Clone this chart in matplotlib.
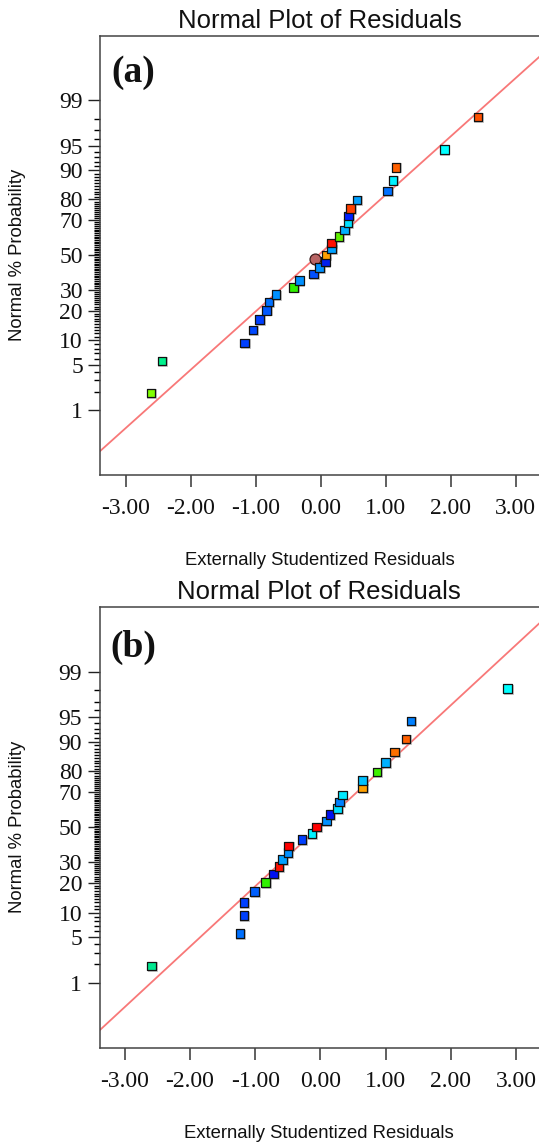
"""Normal probability plots of externally studentized residuals, panels (a) and (b)."""
import numpy as np
import matplotlib
matplotlib.use("Agg")
import matplotlib.pyplot as plt
from matplotlib import transforms
from matplotlib.ticker import NullFormatter
from statistics import NormalDist

# ---------------- data ----------------
PCT = [1.9, 5.6, 9.3, 13.0, 16.7, 20.4, 24.1, 27.8, 31.5, 35.2, 38.9, 42.6, 46.3, 50.0,
       53.7, 57.4, 61.1, 64.8, 68.5, 72.2, 75.9, 79.6, 83.3, 87.0, 90.7, 94.4, 98.1]

A_RESID = [-2.61, -2.44, -1.175, -1.04, -0.94, -0.835, -0.795, -0.69, -0.42, -0.33, -0.11,
           -0.02, 0.07, 0.08, 0.165, 0.17, 0.28, 0.365, 0.42, 0.43, 0.46, 0.56, 1.03, 1.11,
           1.16, 1.90, 2.42]
A_COLORS = ["#80ff00", "#00f08c", "#0040ff", "#0048ff", "#0040ff", "#0058ff", "#0070ff",
            "#0090ff", "#30f000", "#0090ff", "#0050ff", "#0090ff", "#0020f0", "#ffa000",
            "#00a0ff", "#ff1000", "#60f000", "#00b0ff", "#00e0ff", "#0020ff", "#ff4000",
            "#00a0ff", "#0070ff", "#00f0ff", "#ff6000", "#00ffff", "#ff5000"]
A_CIRCLE = (-0.09, 47.6)
A_LINE = [(-2.0, 4.25), (2.0, 96.3)]

B_RESID = [-2.59, -1.23, -1.17, -1.17, -1.01, -0.84, -0.715, -0.635, -0.58, -0.50, -0.49,
           -0.28, -0.13, -0.06, 0.09, 0.15, 0.265, 0.29, 0.335, 0.65, 0.65, 0.87, 1.00,
           1.14, 1.31, 1.39, 2.87]
B_COLORS = ["#00e890", "#0070ff", "#0040ff", "#0040ff", "#0060ff", "#30f000", "#0010f0",
            "#ff1000", "#00a0ff", "#0090ff", "#ff0000", "#0040ff", "#00f0ff", "#ff0000",
            "#0090ff", "#0010f0", "#00e0ff", "#0080ff", "#00e8ff", "#ffa000", "#00c0ff",
            "#40f000", "#00b0ff", "#ff7000", "#ff6000", "#0080ff", "#00ffff"]
B_LINE = [(-2.0, 3.69), (2.0, 96.6)]

Y_MAJOR = [1, 5, 10, 20, 30, 50, 70, 80, 90, 95, 99]
Y_MINOR = [v for v in range(1, 100) if v not in Y_MAJOR]
X_TICKS = [-3, -2, -1, 0, 1, 2, 3]

SERIF = "Liberation Serif"
SANS = "Liberation Sans"

ND = NormalDist()


def fwd(p):
    p = np.clip(np.asarray(p, float) / 100.0, 1e-12, 1 - 1e-12)
    return np.vectorize(ND.inv_cdf, otypes=[float])(p)


def inv(z):
    return np.vectorize(ND.cdf, otypes=[float])(np.asarray(z, float)) * 100.0


fig = plt.figure(figsize=(5.39, 11.44), dpi=100)
W, H = 539.0, 1144.0


def panel(box, xlim, resid, colors, line, tag, tag_off, circle=None):
    left, top, bottom = box
    ax = fig.add_axes([left / W, 1 - bottom / H, 1 - left / W, (bottom - top) / H])
    ax.set_yscale("function", functions=(fwd, inv))
    ax.set_xlim(*xlim)
    ax.set_ylim(0.0483, 99.9517)

    ax.axline(line[0], line[1], color="#f87878", lw=1.3, zorder=2)

    shadow = transforms.offset_copy(ax.transData, fig=fig, x=1.2, y=-1.2, units="dots")
    ax.scatter(resid, PCT, s=52, marker="s", color="#9a9a9a", alpha=0.55,
               linewidths=0, transform=shadow, zorder=3)
    if circle is not None:
        ax.scatter([circle[0]], [circle[1]], s=62, marker="o", color="#b86464",
                   edgecolors="#3a1a1a", linewidths=0.9, zorder=3.5)
    ax.scatter(resid, PCT, s=38, marker="s", c=colors, edgecolors="#111111",
               linewidths=0.9, zorder=4)

    ax.set_yticks(Y_MAJOR, [str(v) for v in Y_MAJOR])
    ax.set_yticks(Y_MINOR, minor=True)
    ax.yaxis.set_minor_formatter(NullFormatter())
    ax.set_xticks(X_TICKS, [f"{v:.2f}" for v in X_TICKS])
    ax.tick_params(axis="y", which="major", length=9, width=1.0, pad=3.6, color="#222222",
                   labelsize=17)
    ax.tick_params(axis="y", which="minor", length=4.0, width=1.0, color="#000000")
    ax.tick_params(axis="x", which="major", length=8.6, width=1.2, pad=8, color="#444444",
                   labelsize=17)
    ax.tick_params(axis="x", which="minor", length=0)
    for lab in ax.get_xticklabels() + ax.get_yticklabels():
        lab.set_fontfamily(SERIF)
        lab.set_color("#111111")
    for s in ("left", "bottom", "top"):
        ax.spines[s].set_color("#444444")
        ax.spines[s].set_linewidth(1.1)
    ax.spines["right"].set_visible(False)

    hpx = bottom - top
    ax.text(0.5, 1 + 8.0 / hpx, "Normal Plot of Residuals", transform=ax.transAxes,
            ha="center", va="baseline", fontsize=18.5, family=SANS, color="#111111")
    ax.text(0.5, -90.5 / hpx, "Externally Studentized Residuals", transform=ax.transAxes,
            ha="center", va="baseline", fontsize=13.3, family=SANS, color="#111111")
    fig.text(17.2 / W, 1 - (top + hpx / 2) / H, "Normal % Probability", rotation=90,
             ha="center", va="center", fontsize=13.3, family=SANS, color="#111111")
    ax.annotate(tag, xy=(0, 1), xycoords="axes fraction", xytext=tag_off,
                textcoords="offset pixels", ha="left", va="top", fontsize=27,
                fontweight="bold", family=SERIF, color="#111111")
    return ax


# ---------------- panel (a) ----------------
panel((100.4, 35.7, 474.7), (-3.389, 3.358), A_RESID, A_COLORS, A_LINE, "(a)", (11, -19),
      circle=A_CIRCLE)
# ---------------- panel (b) ----------------
panel((99.7, 606.7, 1047.7), (-3.385, 3.353), B_RESID, B_COLORS, B_LINE, "(b)", (11, -23))

fig.savefig("out.png", dpi=100)
